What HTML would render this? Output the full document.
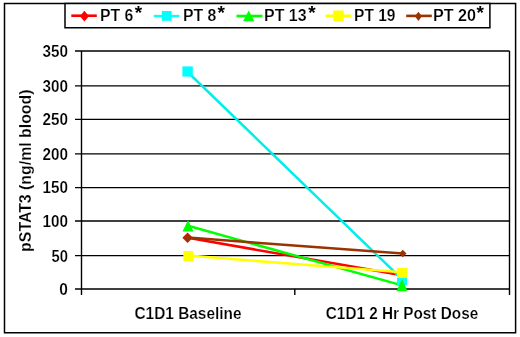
<!DOCTYPE html>
<html><head><meta charset="utf-8">
<style>
html,body{margin:0;padding:0;background:#fff;width:520px;height:337px;overflow:hidden}
svg{display:block;filter:blur(0.3px)}
text{font-family:"Liberation Sans",Arial,sans-serif;font-weight:bold;fill:#000;stroke:#fff;stroke-width:0.2px}
</style></head><body>
<svg width="520" height="337" viewBox="0 0 520 337">
<rect x="0" y="0" width="520" height="337" fill="#fff"/>
<!-- outer chart border -->
<path d="M4.5 3.4H515.6V332.7H4.5Z" fill="none" stroke="#000" stroke-width="1.5"/>
<!-- gridlines -->
<g stroke="#000" stroke-width="1.4" fill="none">
<path d="M75 51H509.5M75 85.9H509.5M75 119.4H509.5M75 153.9H509.5M75 187.6H509.5M75 221H509.5M75 255.6H509.5M75 289H509.5"/>
<path d="M81.5 51V295M509.5 51V295M294.8 289V295"/>
</g>
<!-- y tick labels -->
<g font-size="16" text-anchor="end">
<text x="67.9" y="56.8" textLength="25.4" lengthAdjust="spacingAndGlyphs">350</text>
<text x="67.9" y="91.7" textLength="25.4" lengthAdjust="spacingAndGlyphs">300</text>
<text x="67.9" y="125.3" textLength="25.4" lengthAdjust="spacingAndGlyphs">250</text>
<text x="67.9" y="159.8" textLength="25.4" lengthAdjust="spacingAndGlyphs">200</text>
<text x="67.9" y="193.1" textLength="25.4" lengthAdjust="spacingAndGlyphs">150</text>
<text x="67.9" y="226.9" textLength="25.4" lengthAdjust="spacingAndGlyphs">100</text>
<text x="67.9" y="261.5" textLength="16.4" lengthAdjust="spacingAndGlyphs">50</text>
<text x="67.9" y="294.9" textLength="8.6" lengthAdjust="spacingAndGlyphs">0</text>
</g>
<!-- y axis title -->
<text font-size="16" text-anchor="middle" transform="translate(30.5,170.7) rotate(-90)" textLength="162.4" lengthAdjust="spacingAndGlyphs">pSTAT3 (ng/ml blood)</text>
<!-- x labels -->
<g font-size="16" text-anchor="middle">
<text x="188" y="319" textLength="107" lengthAdjust="spacingAndGlyphs">C1D1 Baseline</text>
<text x="402" y="319" textLength="152.4" lengthAdjust="spacingAndGlyphs">C1D1 2 Hr Post Dose</text>
</g>
<!-- series -->
<g fill="none" stroke-width="2.5" stroke-linejoin="round">
<path d="M187.8 237.8L402 275.2" stroke="#f00"/>
<path d="M187.6 72L402 279.2" stroke="#00eeea"/>
<path d="M188 225.7L402 285.4" stroke="#0f0"/>
<path d="M188.3 255.6L402.2 272.3" stroke="#ff0"/>
<path d="M187.8 237.6L402.8 253.5" stroke="#930"/>
</g>
<!-- markers -->
<g>
<!-- PT6 red diamond -->
<path d="M187.6 232.6L192.8 237.8L187.6 243L182.4 237.8Z" fill="#f00"/>
<path d="M402 270.4L407 275.4L402 280.4L397 275.4Z" fill="#f00"/>
<!-- PT8 cyan squares -->
<rect x="182.4" y="66.4" width="10.4" height="10.2" fill="#0ff"/>
<rect x="397" y="275.2" width="10" height="10" fill="#0ff"/>
<!-- PT13 green triangles -->
<path d="M188 220L193.5 231.4L182.5 231.4Z" fill="#0f0"/>
<path d="M402 279.1L407.6 291.2L396.4 291.2Z" fill="#0f0"/>
<!-- PT19 yellow squares -->
<rect x="183.3" y="251.1" width="10" height="10" fill="#ff0"/>
<rect x="397" y="267.9" width="10.5" height="10" fill="#ff0"/>
<!-- PT20 brown diamonds -->
<path d="M187.6 233.5L191.9 237.8L187.6 242.1L183.3 237.8Z" fill="#930"/>
<path d="M402.8 249.8L406.5 253.5L402.8 257.2L399.1 253.5Z" fill="#930"/>
</g>
<!-- legend -->
<path d="M65 3.4H489.9V27.85H65Z" fill="#fff" stroke="#000" stroke-width="1.5"/>
<g stroke-width="2.6">
<path d="M71.3 15.7H96.8" stroke="#f00"/>
<path d="M153.8 16H179.4" stroke="#0ff" stroke-width="2.3"/>
<path d="M236.5 16H262.5" stroke="#0f0"/>
<path d="M325.5 15.8H351.4" stroke="#ff0"/>
<path d="M406.2 15.9H431.8" stroke="#930"/>
</g>
<path d="M84.4 10.8L88.9 16.2L84.4 21.6L79.9 16.2Z" fill="#f00"/>
<rect x="161.8" y="11" width="9.8" height="9.8" fill="#0ff"/>
<path d="M248.7 10.6L254.4 21.2L243 21.2Z" fill="#0f0"/>
<rect x="333.2" y="10.5" width="10.5" height="10.5" fill="#ff0"/>
<path d="M418.4 11.7L421.9 16.3L418.4 20.9L414.9 16.3Z" fill="#930"/>
<g font-size="16">
<text x="100" y="20.8" textLength="33.4" lengthAdjust="spacingAndGlyphs">PT 6</text>
<text x="183" y="20.8" textLength="33.4" lengthAdjust="spacingAndGlyphs">PT 8</text>
<text x="264" y="20.8" textLength="42.5" lengthAdjust="spacingAndGlyphs">PT 13</text>
<text x="354" y="20.8" textLength="41.5" lengthAdjust="spacingAndGlyphs">PT 19</text>
<text x="433" y="20.8" textLength="43" lengthAdjust="spacingAndGlyphs">PT 20</text>
</g>
<g font-size="19" style="stroke:none">
<text x="134.8" y="19" style="stroke:none">*</text>
<text x="217.4" y="19" style="stroke:none">*</text>
<text x="308.2" y="19" style="stroke:none">*</text>
<text x="476.5" y="19" style="stroke:none">*</text>
</g>
</svg>
</body></html>
